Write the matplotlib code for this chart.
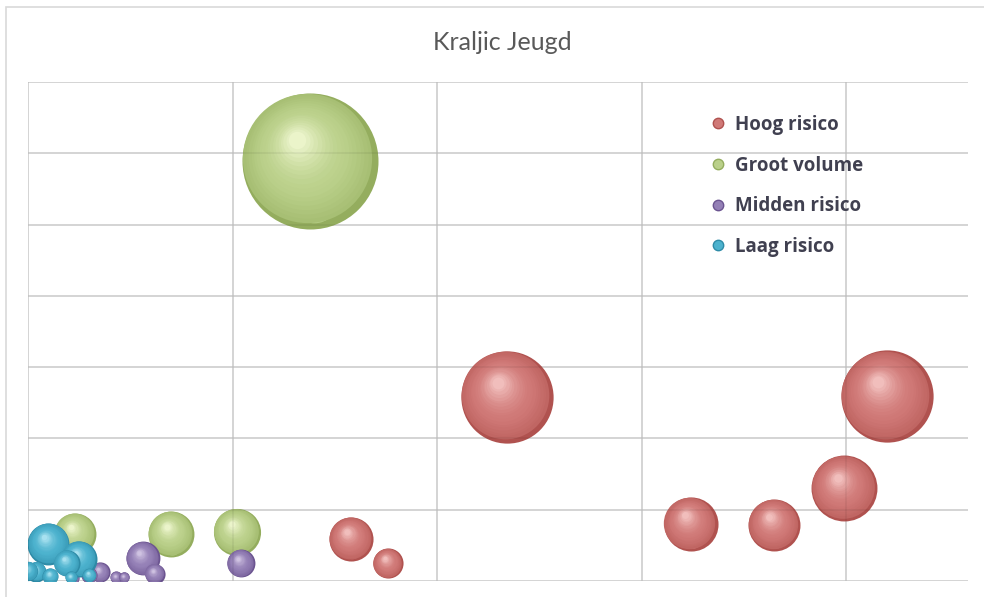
import numpy as np
import matplotlib.pyplot as plt
from matplotlib.lines import Line2D
from matplotlib.patches import Rectangle
from matplotlib.colors import to_rgb

# Kraljic Jeugd - bubble data (x, y, bubble size)
hoog_x = [2.34, 4.20, 3.99, 3.24, 3.65, 1.58, 1.76]
hoog_y = [2.58, 2.59, 1.30, 0.80, 0.79, 0.59, 0.25]
hoog_s = [46, 46, 23.5, 15.8, 14.6, 10.5, 4.9]

groot_x = [1.38, 0.23, 0.70, 1.02]
groot_y = [5.89, 0.66, 0.66, 0.69]
groot_s = [100, 9.5, 11.4, 12.0]

midden_x = [1.04, 0.56, 0.62, 0.35, 0.43, 0.47, 0.30, 0.22]
midden_y = [0.25, 0.32, 0.10, 0.12, 0.05, 0.05, 0.08, 0.04]
midden_s = [4.2, 6.2, 2.2, 2.2, 0.8, 0.6, 1.4, 0.8]

laag_x = [0.10, 0.25, 0.19, 0.04, 0.11, 0.00, 0.21, 0.30]
laag_y = [0.52, 0.31, 0.25, 0.13, 0.07, 0.14, 0.05, 0.08]
laag_s = [9.5, 7.0, 3.7, 2.2, 1.4, 2.0, 0.8, 1.0]

# name, x, y, size, (dark, mid, highlight)
series = [
    ("Hoog risico", hoog_x, hoog_y, hoog_s, ("#b0524f", "#d07977", "#f6c9c7")),
    ("Groot volume", groot_x, groot_y, groot_s, ("#94ad5e", "#bad08a", "#f2f9d4")),
    ("Midden risico", midden_x, midden_y, midden_s, ("#6b5490", "#9480b6", "#d8cce8")),
    ("Laag risico", laag_x, laag_y, laag_s, ("#2e8ba7", "#4cb2ce", "#b5e8f5")),
]

W, H, DPI = 984, 597, 100
fig = plt.figure(figsize=(W / DPI, H / DPI), dpi=DPI)
fig.patch.set_facecolor("white")
fig.patches.append(Rectangle((6 / W, -0.01), 1.0, 1 - 6.5 / H + 0.01, transform=fig.transFigure,
                             fill=False, edgecolor="#d9d9d9", linewidth=1.2))

ax = fig.add_axes([28 / W, (H - 581) / H, 940 / W, 499 / H])
ax.set_xlim(0, 940 / 204.5)
ax.set_ylim(0, 7)
ax.set_xticks([0, 1, 2, 3, 4])
ax.set_yticks(range(8))
ax.grid(True, color="#dcdcdc", linewidth=1.2)
ax.set_axisbelow(True)
ax.tick_params(length=0, labelleft=False, labelbottom=False)
for sp in ax.spines.values():
    sp.set_visible(False)
# faint copy of the grid on top: the bubbles are slightly see-through
ax.hlines(ax.get_yticks(), 0, 1, transform=ax.get_yaxis_transform(),
          color="black", alpha=0.06, linewidth=1.2, zorder=3)
ax.vlines(ax.get_xticks(), 0, 1, transform=ax.get_xaxis_transform(),
          color="black", alpha=0.06, linewidth=1.2, zorder=3)

R_MAX = 68  # pixel radius of the largest bubble
S_MAX = 100


def blend(c1, c2, t):
    a, b = np.array(to_rgb(c1)), np.array(to_rgb(c2))
    return tuple(a + (b - a) * t)


def draw_spheres(xs, ys, sizes, cols, z):
    dark, mid, light = cols
    order = np.argsort(sizes)[::-1]
    xs, ys, sizes = np.array(xs)[order], np.array(ys)[order], np.array(sizes)[order]
    r = R_MAX * np.sqrt(sizes / S_MAX)
    pix = ax.transData.transform(np.column_stack([xs, ys]))
    inv = ax.transData.inverted()
    n = 18
    for i in range(len(xs)):
        zi = z + i * 0.005
        # dark rim / body
        ax.scatter([xs[i]], [ys[i]], s=(2 * r[i] * 0.72) ** 2, color=dark, linewidths=0, zorder=zi)
        # soft light reflection near the bottom
        cx, cy = inv.transform(pix[i] + np.array([0.05, -0.55]) * r[i])
        ax.scatter([cx], [cy], s=(2 * 0.35 * r[i] * 0.72) ** 2, color=blend(dark, mid, 0.9),
                   linewidths=0, zorder=zi + 0.0001)
        for k in range(n):
            t = k / n
            rk = r[i] * (0.95 - 0.87 * t)
            off = np.array([-0.04 - 0.16 * t, 0.04 + 0.29 * t]) * r[i]
            cx, cy = inv.transform(pix[i] + off)
            if t < 0.35:
                col = blend(dark, mid, min(1.0, 0.5 + t / 0.35 * 0.5))
            else:
                col = blend(mid, light, ((t - 0.35) / 0.65) ** 1.6)
            ax.scatter([cx], [cy], s=(2 * rk * 0.72) ** 2, color=col, linewidths=0,
                       zorder=zi + 0.0002 + k * 0.0001)


for idx, (name, xs, ys, ss, cols) in enumerate(series):
    draw_spheres(xs, ys, ss, cols, 1.0 + idx * 0.3)

fs = 13.5
em = fs * DPI / 72
handles = [Line2D([], [], marker="o", linestyle="", markersize=7.5,
                  markerfacecolor=c[1], markeredgecolor=c[0])
           for _, _, _, _, c in series]
leg = ax.legend(handles, [s[0] for s in series], loc="upper left",
                bbox_to_anchor=((718 - em / 2 - 28) / 940, (581 - 115) / 499), frameon=False,
                borderpad=0, borderaxespad=0,
                handletextpad=0.4, handlelength=1.0, labelspacing=1.1,
                prop={"family": "Open Sans", "weight": "bold", "size": fs})
for t in leg.get_texts():
    t.set_color("#404050")
leg.set_zorder(20)

fig.text(502 / W, 1 - 43 / H, "Kraljic Jeugd", ha="center", va="center",
         fontsize=18, color="#595959", family=["Lato", "DejaVu Sans"])

fig.savefig("out.png", dpi=DPI)
